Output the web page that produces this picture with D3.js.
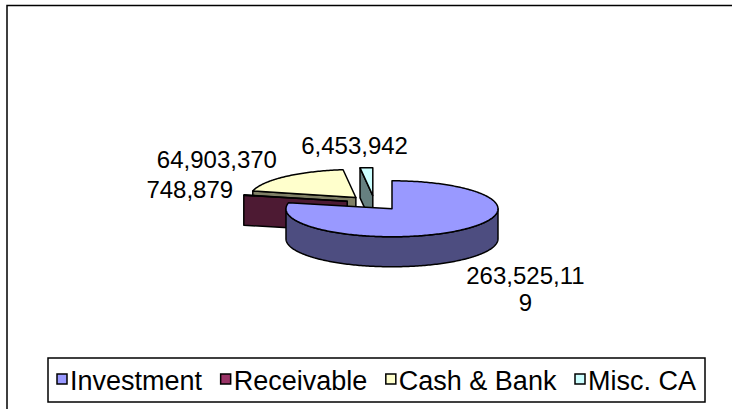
<!DOCTYPE html>
<html>
<head>
<meta charset="utf-8">
<script src="https://cdn.jsdelivr.net/npm/d3@7"></script>
<style>
  body { margin: 0; background: #fff; }
  svg { display: block; }
  text { font-family: "Liberation Sans", Arial, Helvetica, sans-serif; fill: #000; }
</style>
</head>
<body>
<svg id="chart" width="732" height="409"></svg>
<script>
// Current assets breakdown
const categories = ["Investment", "Receivable", "Cash & Bank", "Misc. CA"];
const values = [263525119, 748879, 64903370, 6453942];
const topColors = ["#9999FF", "#993366", "#FFFFCC", "#CCFFFF"];

const W = 732, H = 409;
const svg = d3.select("#chart");

// 3-D pie geometry
const cx = 374.5, cy = 203;      // pie centre (screen)
const R = 106;                   // radius
const tilt = 0.264;              // vertical squash of the elevated view
const depth = 30;                // thickness of the pie
const explode = 28;              // distance each slice is pulled out
const labelFont = 24, legendFont = 27;
const lineH = 27;
const maxLabelW = 124;

// chart area frame
svg.append("rect")
  .attr("x", 7).attr("y", 5.5).attr("width", W + 20).attr("height", H + 20)
  .attr("fill", "#fff").attr("stroke", "#000").attr("stroke-width", 1.5);

const sideColors = topColors.map(c => d3.interpolateRgb(c, "#000")(0.5));

const arcs = d3.pie().sort(null).value(d => d).startAngle(0).endAngle(2 * Math.PI)(values);

function pt(c, r, a, z) {
  return [c[0] + r * Math.sin(a), c[1] - r * tilt * Math.cos(a) + z];
}
function rim(c, a0, a1, z) {
  const n = Math.max(2, Math.ceil(Math.abs(a1 - a0) / (Math.PI / 180)));
  return d3.range(n + 1).map(i => pt(c, R, a0 + (a1 - a0) * i / n, z));
}

const slices = arcs.map((p, i) => {
  const mid = (p.startAngle + p.endAngle) / 2;
  const c = [cx + explode * Math.sin(mid), cy - explode * tilt * Math.cos(mid)];
  return { i, a0: p.startAngle, a1: p.endAngle, mid, c, value: p.value };
});

// paint back slices first
const drawOrder = slices.slice().sort((a, b) => Math.cos(b.mid) - Math.cos(a.mid));
const line = d3.line();
const pieG = svg.append("g")
  .attr("stroke", "#000").attr("stroke-width", 1.5).attr("stroke-linejoin", "round");

drawOrder.forEach(s => {
  const g = pieG.append("g");
  const cutFace = a => [s.c, pt(s.c, R, a, 0), pt(s.c, R, a, depth), [s.c[0], s.c[1] + depth]];
  // radial faces that turn toward the viewer
  if (Math.sin(s.a0) < -1e-6)
    g.append("path").attr("d", line(cutFace(s.a0)) + "Z").attr("fill", sideColors[s.i]);
  if (Math.sin(s.a1) > 1e-6)
    g.append("path").attr("d", line(cutFace(s.a1)) + "Z").attr("fill", sideColors[s.i]);
  // outer wall on the front half
  const lo = Math.max(s.a0, Math.PI / 2), hi = Math.min(s.a1, 3 * Math.PI / 2);
  if (hi > lo) {
    const wall = rim(s.c, lo, hi, 0).concat(rim(s.c, hi, lo, depth));
    g.append("path").attr("d", line(wall) + "Z").attr("fill", sideColors[s.i]);
  }
  // top face
  g.append("path")
    .attr("d", line([s.c].concat(rim(s.c, s.a0, s.a1, 0))) + "Z")
    .attr("fill", topColors[s.i]);
});

// data labels
const fmt = d3.format(",");
const labelG = svg.append("g").attr("font-size", labelFont);
const probe = labelG.append("text");
function measure(str) { probe.text(str); return probe.node().getComputedTextLength(); }
function wrapChars(str) {
  const lines = [];
  let cur = "";
  for (const ch of str) {
    if (cur && measure(cur + ch) > maxLabelW) { lines.push(cur); cur = ch; }
    else cur += ch;
  }
  if (cur) lines.push(cur);
  return lines;
}

slices.forEach(s => {
  const lines = wrapChars(fmt(s.value));
  const w = d3.max(lines, measure);
  const h = lines.length * 25;
  const sn = Math.sin(s.mid), cs = Math.cos(s.mid);
  const ax = s.c[0] + (R + 8) * sn;
  const ay = s.c[1] - (R + 8) * tilt * cs + (cs < 0 ? depth : 0);
  const sx = Math.abs(sn) > 0.3 ? Math.sign(sn) : sn / 0.3;
  const bx = ax + sx * (w / 2 + 3);
  const by = ay - cs * (h / 2 + 8);
  const top = by - h / 2;
  const t = labelG.append("text").attr("text-anchor", "middle");
  lines.forEach((ln, j) => {
    t.append("tspan")
      .attr("x", bx)
      .attr("y", top + 12.5 + j * lineH + 0.358 * labelFont)
      .text(ln);
  });
});
probe.remove();

// legend
const legX0 = 48, legX1 = 705, legY0 = 358, legY1 = 402;
const sym = 10, symGap = 3, pad = 9;
svg.append("rect")
  .attr("x", legX0).attr("y", legY0).attr("width", legX1 - legX0).attr("height", legY1 - legY0)
  .attr("fill", "#fff").attr("stroke", "#000").attr("stroke-width", 1.5);
const legG = svg.append("g").attr("font-size", legendFont);
const items = legG.selectAll("g").data(categories).join("g");
items.append("text").text(d => d);
const widths = items.select("text").nodes().map(n => n.getComputedTextLength());
const used = d3.sum(widths) + categories.length * (sym + symGap);
const gap = (legX1 - legX0 - 2 * pad - used) / (categories.length - 1);
const midY = (legY0 + legY1) / 2;
let x = legX0 + pad;
items.each(function (d, i) {
  const g = d3.select(this);
  g.insert("rect", "text")
    .attr("x", x).attr("y", midY - sym / 2 - 1).attr("width", sym).attr("height", sym)
    .attr("fill", topColors[i]).attr("stroke", "#000").attr("stroke-width", 1.5);
  g.select("text").attr("x", x + sym + symGap).attr("y", midY + 0.358 * legendFont);
  x += sym + symGap + widths[i] + gap;
});
</script>
</body>
</html>
